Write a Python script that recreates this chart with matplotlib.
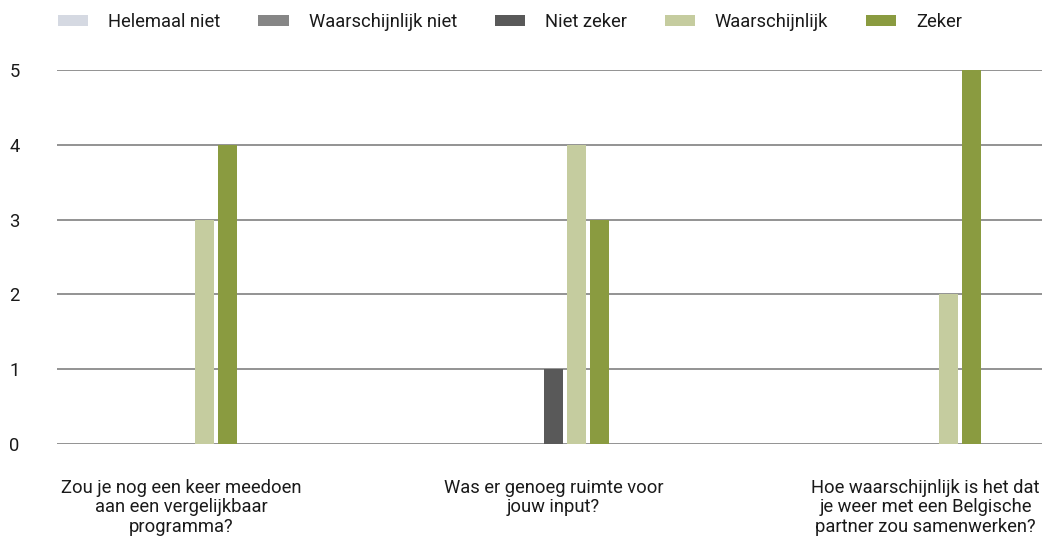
import numpy as np
import matplotlib.pyplot as plt

plt.rcParams['font.family'] = ['Roboto', 'DejaVu Sans']

# ---------------- data ----------------
categories = [
    "Zou je nog een keer meedoen\naan een vergelijkbaar\nprogramma?",
    "Was er genoeg ruimte voor\njouw input?",
    "Hoe waarschijnlijk is het dat\nje weer met een Belgische\npartner zou samenwerken?",
]
series_names = ["Helemaal niet", "Waarschijnlijk niet", "Niet zeker", "Waarschijnlijk", "Zeker"]
helemaal_niet = [0, 0, 0]
waarschijnlijk_niet = [0, 0, 0]
niet_zeker = [0, 1, 0]
waarschijnlijk = [3, 4, 2]
zeker = [4, 3, 5]
y_ticks = [0, 1, 2, 3, 4, 5]

series_values = [helemaal_niet, waarschijnlijk_niet, niet_zeker, waarschijnlijk, zeker]
colors = ["#d5d9e2", "#868686", "#595959", "#c5cc9f", "#8a9b40"]

# ---------------- layout ----------------
W, H = 1042, 538
FS = 13.2
fig = plt.figure(figsize=(W / 100, H / 100), dpi=100)
ax = fig.add_axes([57 / W, 94 / H, (W - 57) / W, (444 - 70) / H])

px = 372.0  # pixels per category
bar_w = 19 / px
step = 23 / px
x = np.arange(len(categories))

for y in y_ticks:
    ax.axhline(y, color="#8a8a8a", lw=1.3, zorder=1)

handles = []
for i, (name, vals, col) in enumerate(zip(series_names, series_values, colors)):
    b = ax.bar(x + (i - 2) * step, vals, width=bar_w, color=col, label=name, zorder=2)
    handles.append(b)

ax.set_xlim((57 - 181.5) / px, (1042 - 181.5) / px)
ax.set_ylim(0, 5)
ax.set_yticks(y_ticks)
ax.set_xticks(x)
ax.set_xticklabels(categories, fontsize=FS, color="#1a1a1a", linespacing=1.1)
ax.tick_params(axis="x", length=0, pad=25)
ax.tick_params(axis="y", length=0, pad=27, labelsize=FS, labelcolor="#1a1a1a")
for s in ax.spines.values():
    s.set_visible(False)

fig.legend(handles=handles, labels=series_names, loc="center left",
           bbox_to_anchor=(58 / W, 1 - 22 / H), ncol=5, frameon=False,
           fontsize=FS, handlelength=1.65, handleheight=0.55,
           handletextpad=1.1, columnspacing=2.05, borderpad=0, borderaxespad=0,
           labelcolor="#1a1a1a")

fig.savefig("out.png", dpi=100)
